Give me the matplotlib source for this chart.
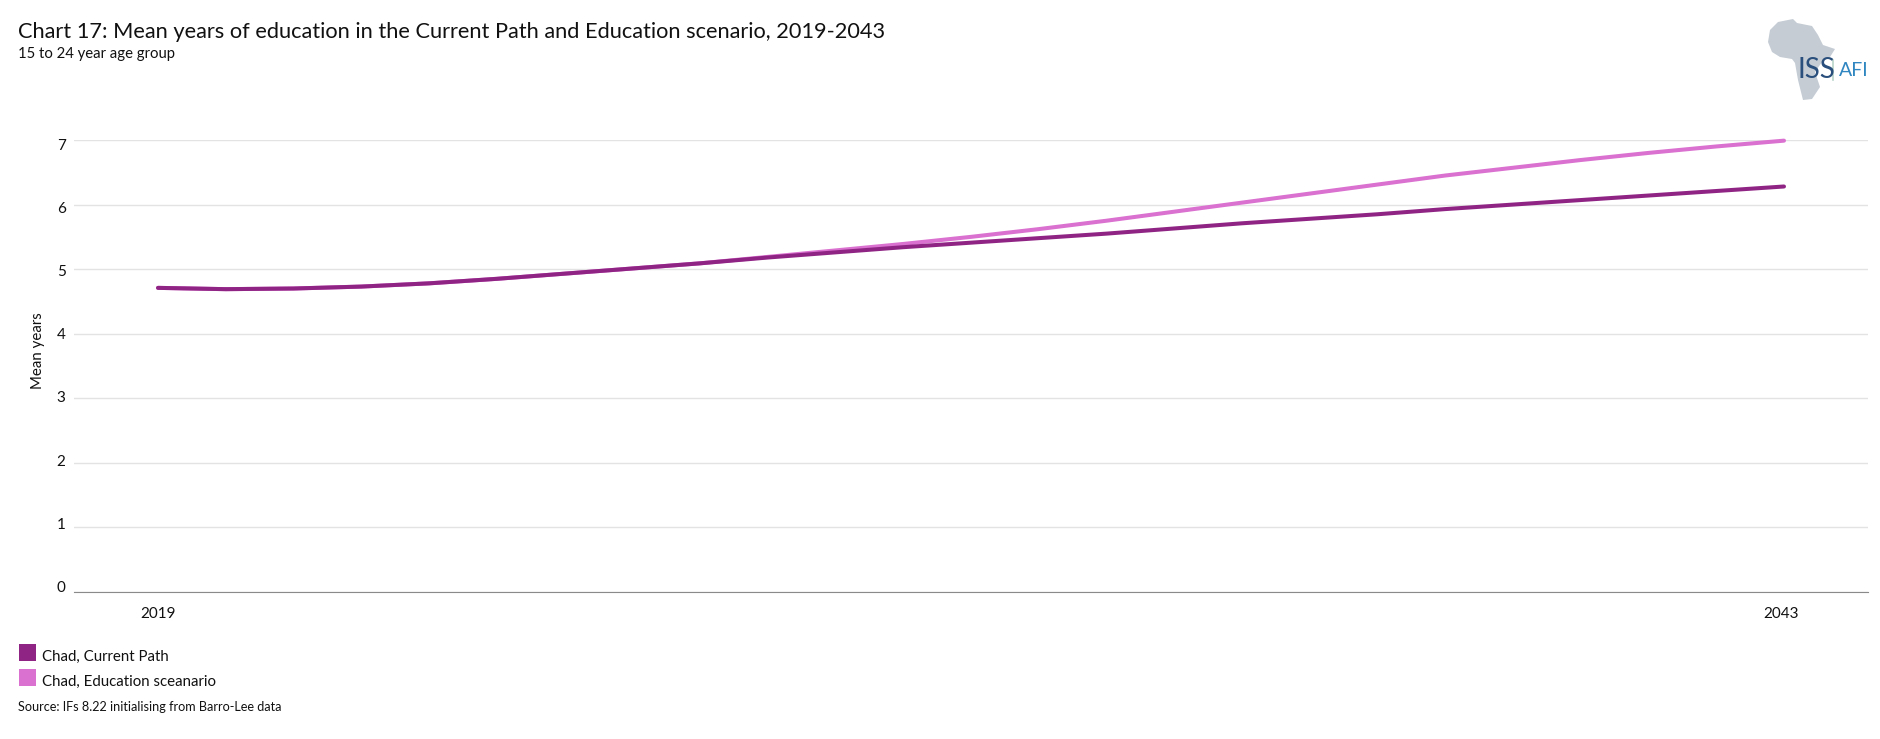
import numpy as np
import matplotlib.pyplot as plt
from matplotlib.lines import Line2D
from matplotlib.patches import Polygon, Rectangle
from matplotlib.transforms import ScaledTranslation

plt.rcParams['font.family'] = ['Lato', 'DejaVu Sans']

W, H = 1880, 739

years = np.arange(2019, 2044)
current_path = [4.71, 4.69, 4.70, 4.73, 4.78, 4.85, 4.93, 5.01, 5.09, 5.18, 5.26,
                5.34, 5.41, 5.48, 5.55, 5.63, 5.71, 5.78, 5.85, 5.93, 6.00, 6.07,
                6.14, 6.21, 6.28]
education = [4.71, 4.69, 4.70, 4.73, 4.78, 4.85, 4.93, 5.01, 5.09, 5.19, 5.29,
             5.39, 5.50, 5.62, 5.75, 5.89, 6.03, 6.17, 6.31, 6.45, 6.57, 6.69,
             6.80, 6.90, 6.99]
y_ticks = [0, 1, 2, 3, 4, 5, 6, 7]
labels = ['Chad, Current Path', 'Chad, Education sceanario']
colors = ['#8f2484', '#da70cf']

fig = plt.figure(figsize=(W / 100, H / 100), dpi=100)
ax = fig.add_axes([74 / W, 1 - 592 / H, 1794 / W, (592 - 140) / H])

ax.plot(years, education, color=colors[1], lw=2.9, solid_capstyle='round', clip_on=False)
ax.plot(years, current_path, color=colors[0], lw=2.9, solid_capstyle='round', clip_on=False)

ax.set_xlim(2019 - 1.24, 2043 + 1.24)
ax.set_ylim(0, 7)
ax.set_yticks(y_ticks)
ax.set_xticks([2019, 2043])
ax.grid(axis='y', color='#e3e3e3', lw=1)
ax.set_axisbelow(True)
ax.tick_params(axis='both', length=0, labelsize=11, colors='#111111')
ax.tick_params(axis='y', pad=6)
ax.tick_params(axis='x', pad=11)
for s in ['top', 'left', 'right']:
    ax.spines[s].set_visible(False)
ax.spines['bottom'].set_color('#8a8a8a')
ax.set_ylabel('Mean years', fontsize=10.8, color='#111111')
ax.yaxis.set_label_coords(-29 / 1794, 0.533)

# the tick labels sit on a slightly tighter spacing than the gridlines
for lab, tick in zip(ax.get_yticklabels(), y_ticks):
    dy = (4 - tick) / 72
    lab.set_transform(lab.get_transform() + ScaledTranslation(0, dy, fig.dpi_scale_trans))
ax.get_xticklabels()[1].set_transform(ax.get_xticklabels()[1].get_transform()
                                      + ScaledTranslation(-3 / 100, 0, fig.dpi_scale_trans))


def px(x, y):
    return x / W, 1 - y / H


fig.text(*px(18, 32), 'Chart 17: Mean years of education in the Current Path and Education scenario, 2019-2043',
         fontsize=15.7, va='center', color='#111111')
fig.text(*px(18, 54), '15 to 24 year age group', fontsize=10.7, va='center', color='#111111')

for i, (lab, col) in enumerate(zip(labels, colors)):
    y = 644 + i * 25
    fig.add_artist(Rectangle(px(19, y + 17), 17 / W, 17 / H, color=col, lw=0, transform=fig.transFigure))
    fig.text(*px(42, y + 13), lab, fontsize=10.85, va='center', color='#111111')
fig.text(*px(18, 707), 'Source: IFs 8.22 initialising from Barro-Lee data', fontsize=9.1,
         va='center', color='#111111')

# logo
africa = [(1778, 22), (1793, 19), (1797, 23), (1812, 26), (1818, 35), (1823, 45), (1835, 49),
          (1830, 57), (1822, 62), (1815, 72), (1820, 87), (1812, 99), (1803, 100), (1798, 80),
          (1795, 63), (1792, 59), (1780, 57), (1772, 52), (1768, 42), (1770, 30)]
fig.add_artist(Polygon([px(*p) for p in africa], closed=True, color='#c5ccd4', lw=0,
                       transform=fig.transFigure))
fig.text(*px(1797, 70), 'ISS', fontsize=20, va='center', color='#2a4f7c')
x_bar, y_bar = zip(px(1833, 60), px(1833, 80))
fig.add_artist(Line2D(x_bar, y_bar, color='#b8d4c8', lw=1.2, transform=fig.transFigure))
fig.text(*px(1839, 70), 'AFI', fontsize=14, va='center', color='#2f86c1')

fig.savefig('out.png', dpi=100)
